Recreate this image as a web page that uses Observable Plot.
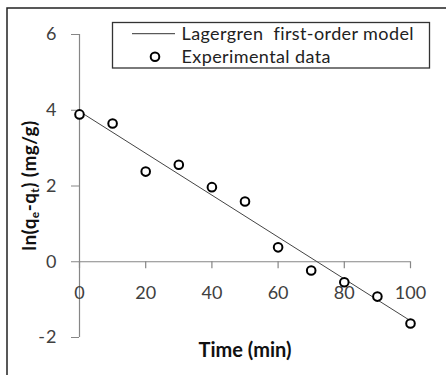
<!DOCTYPE html>
<html><head><meta charset="utf-8">
<script src="https://cdn.jsdelivr.net/npm/d3@7"></script>
<script src="https://cdn.jsdelivr.net/npm/@observablehq/plot@0.6"></script>
<style>
body{margin:0;background:#fff}
g[aria-label="x-tick-label"] text, g[aria-label="y-axis tick label"] text {letter-spacing:1px}
g[aria-label="x-title"] text {letter-spacing:0.5px}
</style>
</head><body><div id="chart"></div>
<script>
// Data
const timeMin = [0, 10, 20, 30, 40, 50, 60, 70, 80, 90, 100];
const lnQeQt = [3.89, 3.65, 2.38, 2.56, 1.97, 1.59, 0.38, -0.23, -0.54, -0.92, -1.63];
const modelTime = [0, 100];
const modelLn = [3.97, -1.56];
const xTicks = [0, 20, 40, 60, 80, 100];
const yTicks = [-2, 0, 2, 4, 6];
const legendLabels = ["Lagergren  first-order model", "Experimental data"];
const xTitle = "Time (min)";

const FONT = "Lato, 'Open Sans', sans-serif";
const W = 446, H = 375;

const points = timeMin.map((t, i) => ({t, v: lnQeQt[i]}));
const model = modelTime.map((t, i) => ({t, v: modelLn[i]}));

function border() {
  const g = d3.create("svg:g");
  g.append("path").attr("d", `M7,${H} V8 H${W}`).attr("fill", "none").attr("stroke", "#222").attr("stroke-width", 1.5);
  return g.node();
}

function yTitle(index, scales, values, dims) {
  const cy = (dims.marginTop + dims.height - dims.marginBottom) / 2;
  const g = d3.create("svg:g");
  const t = g.append("text")
    .attr("transform", `translate(29,${cy}) rotate(-90)`)
    .attr("text-anchor", "middle").attr("dy", "0.35em")
    .attr("font-family", FONT).attr("font-size", 19).attr("font-weight", "bold").attr("fill", "#111")
    .attr("letter-spacing", "0.4px");
  t.append("tspan").text("ln(q");
  t.append("tspan").text("e").attr("font-size", 12).attr("baseline-shift", "-25%");
  t.append("tspan").text("-q");
  t.append("tspan").text("t").attr("font-size", 12).attr("baseline-shift", "-25%");
  t.append("tspan").text(") (mg/g)");
  return g.node();
}

function legend() {
  const g = d3.create("svg:g").attr("font-family", FONT).attr("font-size", 18).attr("fill", "#222")
    .attr("text-anchor", "start").attr("letter-spacing", "0.4px");
  g.append("rect").attr("x", 112.5).attr("y", 22.5).attr("width", 317).attr("height", 45.5)
    .attr("fill", "white").attr("stroke", "#333").attr("stroke-width", 1.3);
  g.append("line").attr("x1", 132).attr("x2", 175).attr("y1", 33.7).attr("y2", 33.7)
    .attr("stroke", "#333").attr("stroke-width", 1);
  g.append("text").attr("x", 181.5).attr("y", 33.7).attr("dy", "0.35em").text(legendLabels[0]);
  g.append("circle").attr("cx", 155).attr("cy", 56.7).attr("r", 4.3)
    .attr("fill", "white").attr("stroke", "#000").attr("stroke-width", 2);
  g.append("text").attr("x", 181.5).attr("y", 57).attr("dy", "0.35em").text(legendLabels[1]);
  return g.node();
}

const chart = Plot.plot({
  width: W, height: H,
  marginLeft: 79, marginRight: 36, marginTop: 34, marginBottom: 38,
  style: {fontFamily: FONT, background: "white", overflow: "visible"},
  x: {domain: [0, 100], axis: null},
  y: {domain: [-2, 6], axis: null},
  marks: [
    border,
    Plot.ruleX([0], {stroke: "#868686", strokeWidth: 1.2}),
    Plot.ruleY([0], {stroke: "#868686", strokeWidth: 1.2}),
    Plot.axisY(yTicks, {label: null, tickSize: 8, tickPadding: 14, stroke: "#868686", fill: "#404040", fontSize: 18, tickFormat: d => String(d)}),
    Plot.ruleX(xTicks, {x: d => d, y1: 0, y2: 0, insetBottom: -7, stroke: "#868686", strokeWidth: 1.2}),
    Plot.text(xTicks, {ariaLabel: "x-tick-label", x: d => d, y: 0, dy: 31, text: d => String(d), fontSize: 18, fill: "#404040"}),
    Plot.text([xTitle], {ariaLabel: "x-title", frameAnchor: "bottom", dy: 19, text: d => d, fontSize: 20, fontWeight: "bold", fill: "#111"}),
    yTitle,
    Plot.line(model, {x: "t", y: "v", stroke: "#444", strokeWidth: 1}),
    Plot.dot(points, {x: "t", y: "v", r: 4.3, fill: "white", stroke: "#000", strokeWidth: 2}),
    legend
  ]
});
document.getElementById("chart").append(chart);
</script>
</body></html>
